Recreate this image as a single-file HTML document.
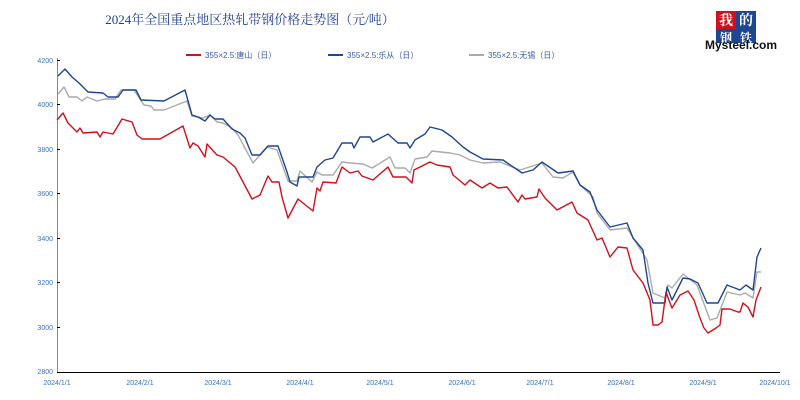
<!DOCTYPE html>
<html><head><meta charset="utf-8"><style>
body{margin:0;background:#fff}
svg{display:block}
</style></head><body>
<svg width="800" height="400" xmlns="http://www.w3.org/2000/svg" font-family="'Liberation Sans','Noto Sans CJK SC',sans-serif">
<rect width="800" height="400" fill="#fff"/>
<text x="250" y="24" font-size="13" fill="#1f3f8f" text-anchor="middle" font-family="'Liberation Serif','Noto Serif CJK SC',serif">2024年全国重点地区热轧带钢价格走势图（元/吨）</text>
<g font-family="'Liberation Serif','Noto Serif CJK SC',serif" font-size="14" font-weight="bold">
<rect x="716" y="11" width="20" height="18" fill="#d0101a"/><text x="726" y="25" fill="#fff" text-anchor="middle">我</text>
<rect x="736" y="11" width="20" height="18" fill="#1f4690"/><text x="746" y="25" fill="#fff" text-anchor="middle">的</text>
<rect x="716" y="29" width="20" height="14" fill="#1f4690"/><text x="726" y="42" fill="#fff" text-anchor="middle" font-size="12">钢</text>
<rect x="736" y="29" width="20" height="14" fill="#1f4690"/><text x="746" y="42" fill="#fff" text-anchor="middle" font-size="12">铁</text>
</g>
<text x="705" y="49" font-size="12" font-weight="bold" fill="#111">Mysteel.com</text>
<g font-size="8" fill="#3a5aa8">
<line x1="186" y1="55" x2="201" y2="55" stroke="#d0101a" stroke-width="2"/><text x="205" y="58">355×2.5:唐山（日）</text>
<line x1="328" y1="55" x2="343" y2="55" stroke="#1f4690" stroke-width="2"/><text x="347" y="58">355×2.5:乐从（日）</text>
<line x1="469" y1="55" x2="484" y2="55" stroke="#aaa" stroke-width="2"/><text x="488" y="58">355×2.5:无锡（日）</text>
</g>
<g font-size="7" fill="#3a6fc0" text-anchor="end">
<text x="53" y="63">4200</text><text x="53" y="107">4000</text><text x="53" y="152">3800</text><text x="53" y="196">3600</text><text x="53" y="241">3400</text><text x="53" y="285">3200</text><text x="53" y="330">3000</text><text x="53" y="374">2800</text>
</g>
<line x1="57.5" y1="58" x2="57.5" y2="372" stroke="#888"/>
<line x1="57" y1="372.5" x2="780" y2="372.5" stroke="#000"/>
<g stroke="#000"><line x1="57" y1="60.5" x2="60" y2="60.5"/><line x1="57" y1="104.5" x2="60" y2="104.5"/><line x1="57" y1="149.5" x2="60" y2="149.5"/><line x1="57" y1="193.5" x2="60" y2="193.5"/><line x1="57" y1="238.5" x2="60" y2="238.5"/><line x1="57" y1="282.5" x2="60" y2="282.5"/><line x1="57" y1="327.5" x2="60" y2="327.5"/></g>
<g font-size="7" fill="#3a6fc0" text-anchor="middle">
<text x="57" y="385">2024/1/1</text><text x="140" y="385">2024/2/1</text><text x="218" y="385">2024/3/1</text><text x="300" y="385">2024/4/1</text><text x="380" y="385">2024/5/1</text><text x="462" y="385">2024/6/1</text><text x="540" y="385">2024/7/1</text><text x="621" y="385">2024/8/1</text><text x="703" y="385">2024/9/1</text><text x="775" y="385">2024/10/1</text>
</g>
<g fill="none" stroke-width="1.4" stroke-linejoin="round">
<polyline stroke="#aaa" points="58,94 64,87 69,97 77,97 82,101 87,97 97,101 105,99 115,99 121,90 134,90 144,105 151,106 154,110 164,110 187,101 192,116 203,118 210,115 217,122 223,123 232,128 238,135 253,163 267,147 277,150 288,181 297,181 300,171 312,182 317,172 322,175 333,175 342,162 350,163 363,164 372,168 390,157 395,168 405,168 410,173 415,159 427,157 432,151 450,153 460,155 470,160 483,163 500,162 520,170 542,163 553,177 563,178 573,172 580,185 593,197 597,213 610,230 627,228 647,260 653,293 665,298 668,285 672,288 683,274 697,285 710,320 717,318 727,292 740,295 745,293 753,298 757,272 761,272"/>
<polyline stroke="#1f4690" points="58,76 65,69 72,77 79,83 88,92 103,93 108,97 118,97 123,90 136,90 141,100 164,101 185,90 192,115 198,117 205,121 210,115 215,119 223,119 232,129 240,133 245,138 252,155 260,155 268,146 278,146 287,172 290,182 297,186 299,177 313,177 317,167 325,160 333,158 342,143 352,143 354,148 360,137 370,137 373,142 388,134 398,143 407,143 410,148 415,140 425,134 430,127 442,130 452,137 463,147 470,152 483,159 503,160 522,173 533,170 542,162 558,173 573,171 580,185 590,192 597,210 610,227 627,223 633,238 643,250 648,283 653,303 665,303 667,287 672,300 683,278 690,279 698,283 707,303 718,303 727,285 740,290 746,285 753,290 757,257 761,248"/>
<polyline stroke="#d0101a" points="57,120 63,113 68,123 77,132 80,128 83,133 97,132 100,137 103,132 113,134 122,119 132,122 137,135 142,139 160,139 183,126 190,148 193,143 198,146 205,157 207,144 217,155 223,157 235,167 242,180 252,199 260,195 268,176 272,182 279,182 282,197 288,218 298,199 313,211 317,188 320,191 323,182 336,183 342,167 350,173 358,171 362,176 373,180 388,167 393,177 406,177 412,183 414,170 430,162 437,165 450,167 453,175 465,185 470,180 482,188 490,183 498,188 507,187 518,202 522,195 525,199 537,197 539,189 545,198 557,210 572,202 577,213 588,220 597,240 602,238 610,257 618,247 627,248 633,270 643,283 650,300 653,325 658,325 662,322 666,292 670,303 672,308 680,295 688,291 694,300 700,318 704,328 708,333 716,328 720,325 722,309 730,309 738,312 740,312 743,303 748,307 753,317 756,300 761,287"/>
</g>
</svg>
</body></html>
